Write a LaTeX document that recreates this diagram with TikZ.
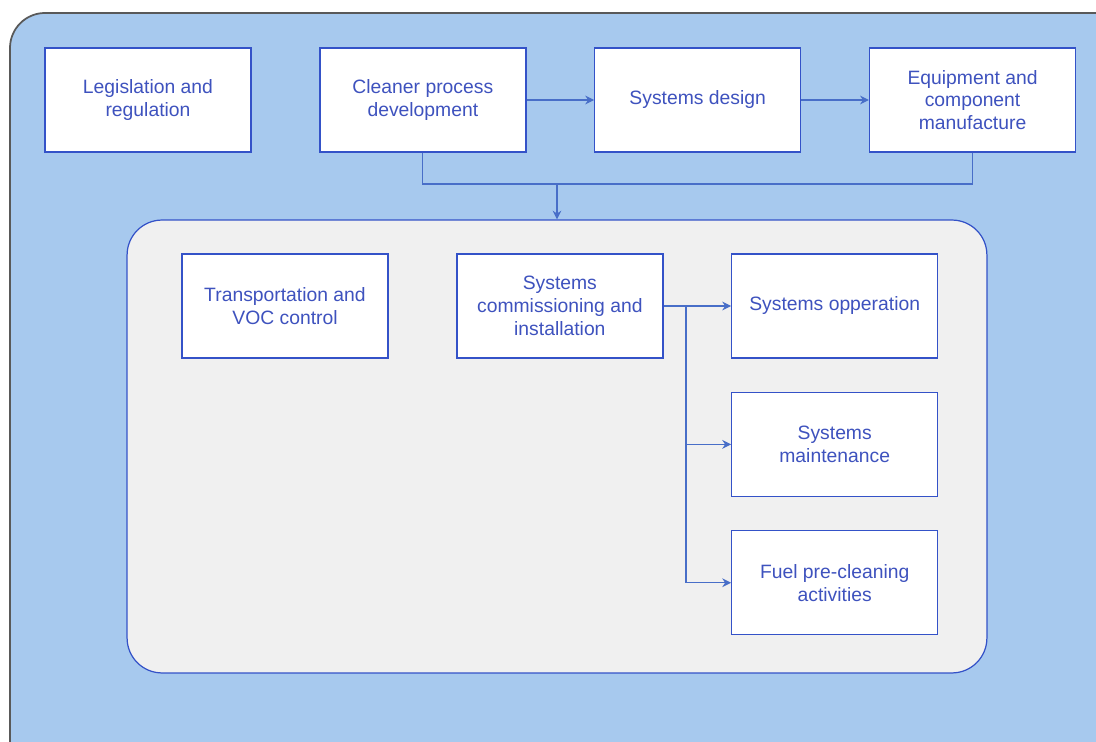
\documentclass[tikz,border=0pt]{standalone}
\usepackage{fontspec}
\setmainfont{Liberation Sans}
\usepackage{tikz}
\usetikzlibrary{shapes.geometric, arrows, arrows.meta}
\usetikzlibrary{positioning}
\definecolor{boxline}{RGB}{52,82,200}
\definecolor{boxtext}{RGB}{62,82,190}
\definecolor{linkline}{RGB}{72,110,200}
\definecolor{outerfill}{RGB}{167,201,238}
\definecolor{innerfill}{RGB}{240,240,240}
\tikzstyle{process} = [rectangle, minimum width=4.12cm, minimum height=2.08cm, align=center, draw=boxline, line width=0.8pt, fill=white, text=boxtext, font=\fontsize{11}{13}\selectfont]
\tikzstyle{arrow} = [linkline, line width=0.6pt, ->, >={Stealth[length=5pt, width=5pt]}]
\tikzstyle{link} = [linkline, line width=0.6pt]
\tikzstyle{panel} = [rectangle, rounded corners=0.7cm, draw=boxline, line width=0.7pt, fill=innerfill]

\begin{document}
\begin{tikzpicture}[x=0.02cm, y=-0.02cm, node distance=1.35cm]
    \useasboundingbox (0,0) rectangle (1096,742);
    \clip (0,0) rectangle (1096,742);
    % outer area
    \draw [fill=outerfill, draw=black!65, line width=1pt, rounded corners=0.7cm] (10,13) rectangle (1140,790);
    \node (inner) [panel, minimum width=17.2cm, minimum height=9.06cm] at (557,446.5) {};
    % top row
    \node (leg) [process] at (148,100) {Legislation and\\regulation};
    \node (clean) [process, right=of leg] {Cleaner process\\development};
    \node (design) [process, right=of clean] {Systems design};
    \node (equip) [process, right=of design] {Equipment and\\component\\manufacture};
    % inner boxes
    \node (trans) [process] at (285,306) {Transportation and\\VOC control};
    \node (comm) [process, right=of trans] {Systems\\commissioning and\\installation};
    \node (oper) [process, right=of comm] {Systems opperation};
    \node (maint) [process, below=0.66cm of oper] {Systems\\maintenance};
    \node (fuel) [process, below=0.66cm of maint] {Fuel pre-cleaning\\activities};
    % connectors
    \draw [arrow] (clean) -- (design);
    \draw [arrow] (design) -- (equip);
    \coordinate (join) at (557,184);
    \draw [link] (clean.south) |- (join) -| (equip.south);
    \draw [arrow] (join) -- (inner.north);
    \coordinate (split) at (686,306);
    \draw [arrow] (comm.east) -- (oper.west);
    \draw [arrow] (split) |- (maint.west);
    \draw [arrow] (split) |- (fuel.west);
\end{tikzpicture}
\end{document}
